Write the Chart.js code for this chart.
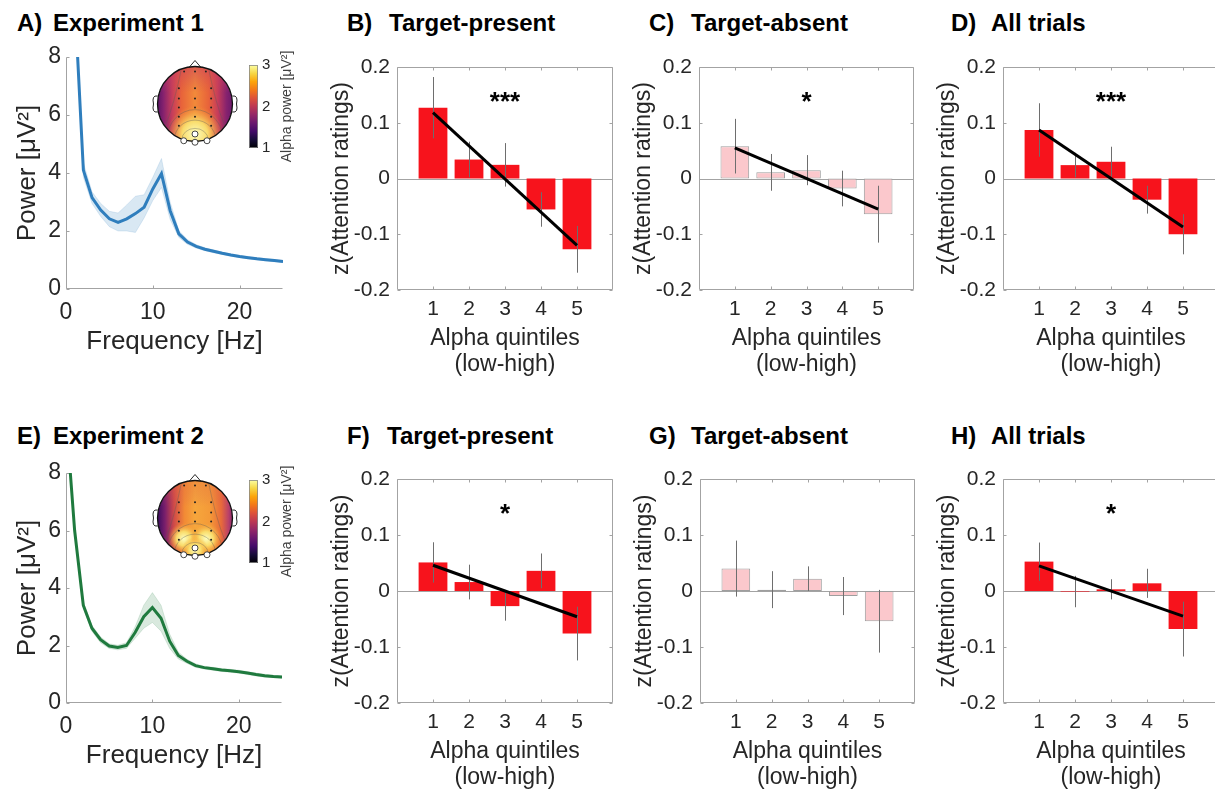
<!DOCTYPE html>
<html lang="en">
<head>
<meta charset="UTF-8">
<title>Alpha power and attention ratings</title>
<script src="https://cdn.jsdelivr.net/npm/chart.js"></script>
<style>
  body { margin: 0; width: 1215px; height: 791px; overflow: hidden; position: relative; background: #fff;
         font-family: "Liberation Sans", Arial, sans-serif; }
  canvas { position: absolute; }
  .ttl { position: absolute; font-weight: bold; font-size: 24px; line-height: 24px; white-space: nowrap; color: #000; }
</style>
</head>
<body>

<script>
// ---- power spectra (A: experiment 1, E: experiment 2) ----
const freqA    = [1, 2, 3, 4, 5, 6, 7, 8, 9, 10, 11, 12, 13, 14, 15, 16, 17, 18, 19, 20, 21, 22, 23, 24, 25];
const powerA   = [10, 4.1, 3.15, 2.72, 2.42, 2.3, 2.42, 2.6, 2.82, 3.45, 3.98, 2.7, 1.9, 1.62, 1.47, 1.37, 1.3, 1.23, 1.17, 1.12, 1.08, 1.04, 1.01, 0.98, 0.95];
const powerAHi = [10, 4.35, 3.35, 2.95, 2.68, 2.62, 2.9, 3.2, 3.25, 3.85, 4.5, 3.0, 2.02, 1.7, 1.53, 1.42, 1.35, 1.27, 1.21, 1.16, 1.12, 1.08, 1.05, 1.02, 0.99];
const powerALo = [10, 3.85, 2.95, 2.5, 2.15, 2.0, 2.0, 1.95, 2.45, 3.05, 3.5, 2.4, 1.78, 1.54, 1.41, 1.32, 1.25, 1.19, 1.13, 1.08, 1.04, 1.0, 0.97, 0.94, 0.91];

const freqE    = [0.5, 1, 2, 3, 4, 5, 6, 7, 8, 9, 10, 11, 12, 13, 14, 15, 16, 17, 18, 19, 20, 21, 22, 23, 24, 25];
const powerE   = [8.0, 6.0, 3.4, 2.6, 2.2, 1.98, 1.93, 2.0, 2.45, 3.0, 3.32, 2.95, 2.15, 1.65, 1.45, 1.3, 1.23, 1.19, 1.15, 1.12, 1.09, 1.04, 0.99, 0.95, 0.92, 0.9];
const powerEHi = [8.0, 6.1, 3.52, 2.7, 2.3, 2.06, 2.01, 2.1, 2.65, 3.4, 3.84, 3.4, 2.4, 1.77, 1.52, 1.36, 1.28, 1.24, 1.2, 1.17, 1.14, 1.09, 1.04, 1.0, 0.96, 0.94];
const powerELo = [8.0, 5.9, 3.28, 2.5, 2.1, 1.9, 1.85, 1.9, 2.25, 2.6, 2.8, 2.5, 1.9, 1.53, 1.38, 1.24, 1.18, 1.14, 1.1, 1.07, 1.04, 0.99, 0.94, 0.9, 0.88, 0.86];
const freqTicks = [0, 10, 20];
const colorbarTicks = [1, 2, 3];

// ---- attention ratings per alpha quintile (mean, SEM, fitted line ends) ----
const quintiles = [1, 2, 3, 4, 5];
const zB = [0.127, 0.034, 0.0245, -0.0555, -0.127], semB = [0.055, 0.032, 0.039, 0.031, 0.042], fitB = [0.118, -0.12];
const zC = [0.058, 0.011, 0.015, -0.018, -0.064],   semC = [0.049, 0.033, 0.027, 0.032, 0.051], fitC = [0.055, -0.055];
const zD = [0.087, 0.024, 0.030, -0.038, -0.100],   semD = [0.048, 0.022, 0.027, 0.025, 0.036], fitD = [0.087, -0.087];
const zF = [0.051, 0.016, -0.027, 0.036, -0.076],   semF = [0.036, 0.031, 0.026, 0.031, 0.048], fitF = [0.046, -0.046];
const zG = [0.040, 0.0024, 0.022, -0.009, -0.054],  semG = [0.050, 0.033, 0.022, 0.034, 0.056];
const zH = [0.0525, -0.001, 0.003, 0.0137, -0.068], semH = [0.034, 0.028, 0.018, 0.026, 0.049], fitH = [0.045, -0.045];
const stars = {B: '***', C: '*', D: '***', F: '*', G: '', H: '*'};

// panel titles: letter, text, x of letter, x of text, top
const titles = [
  ['A)', 'Experiment 1', 17, 53, 11], ['B)', 'Target-present', 347, 389, 11],
  ['C)', 'Target-absent', 649, 691, 11], ['D)', 'All trials', 951, 991, 11],
  ['E)', 'Experiment 2', 17, 53, 424], ['F)', 'Target-present', 347, 387, 424],
  ['G)', 'Target-absent', 649, 691, 424], ['H)', 'All trials', 951, 991, 424]
];
titles.forEach(([k, txt, x1, x2, top]) => {
  [[k, x1], [txt, x2]].forEach(([s, x]) => {
    const d = document.createElement('div');
    d.className = 'ttl'; d.textContent = s;
    d.style.left = x + 'px'; d.style.top = top + 'px';
    document.body.appendChild(d);
  });
});

Chart.defaults.font.family = '"Liberation Sans", Arial, sans-serif';
Chart.defaults.color = '#262626';

const TXT = '#262626';
const RED = '#f7131c', PINK = '#fbc8cc';
const PAD_TOP = 20;

function addCanvas(left, top, w, h) {
  const c = document.createElement('canvas');
  c.width = w; c.height = h;
  c.style.left = left + 'px'; c.style.top = top + 'px';
  document.body.appendChild(c);
  return c;
}

// matlab style axes: box / inner ticks / zero line
function frame(box, zero) {
  return {
    id: 'frame',
    beforeDatasetsDraw(chart) {
      const {ctx, chartArea: a, scales: {x, y}} = chart;
      const L = Math.round(a.left) + 0.5, R = Math.round(a.right) - 0.5;
      const T = Math.round(a.top) + 0.5, B = Math.round(a.bottom) - 0.5;
      ctx.save();
      ctx.strokeStyle = '#a3a3a3';
      ctx.lineWidth = 1;
      ctx.beginPath();
      if (box) ctx.rect(L, T, R - L, B - T);
      else { ctx.moveTo(L, T); ctx.lineTo(L, B); ctx.lineTo(R, B); }
      x.ticks.forEach(t => {
        const p = Math.round(x.getPixelForValue(t.value)) + 0.5;
        ctx.moveTo(p, B); ctx.lineTo(p, B - 3);
        if (box) { ctx.moveTo(p, T); ctx.lineTo(p, T + 3); }
      });
      y.ticks.forEach(t => {
        const p = Math.round(y.getPixelForValue(t.value)) + 0.5;
        ctx.moveTo(L, p); ctx.lineTo(L + 3, p);
        if (box) { ctx.moveTo(R, p); ctx.lineTo(R - 3, p); }
      });
      if (zero) {
        const p = Math.round(y.getPixelForValue(0)) + 0.5;
        ctx.moveTo(L, p); ctx.lineTo(R, p);
      }
      ctx.stroke();
      ctx.restore();
    }
  };
}

// ---- bar panels ----
function barPanel(g, z, sem, fit, color, edge, star) {
  const w = 100 + (g.r - g.l) + 6, h = PAD_TOP + (g.b - g.t) + 90;
  const cv = addCanvas(g.l - 100, g.t - PAD_TOP, w, h);
  const datasets = [{
    type: 'bar',
    data: quintiles.map((q, i) => ({x: q, y: z[i]})),
    backgroundColor: color, borderColor: edge || color, borderWidth: edge ? 1 : 0, borderSkipped: false,
    barPercentage: 0.8, categoryPercentage: 1, order: 2
  }];
  if (fit) {
    datasets.push({
      type: 'line',
      data: [{x: quintiles[0], y: fit[0]}, {x: quintiles[quintiles.length - 1], y: fit[1]}],
      borderColor: '#000', borderWidth: 3, pointRadius: 0, fill: false, order: 1
    });
  }
  const marks = {
    id: 'marks',
    afterDatasetDraw(chart, args) {
      if (args.index !== 0) return;
      const {ctx, scales: {x, y}} = chart;
      ctx.save();
      ctx.strokeStyle = '#6e6e6e';
      ctx.lineWidth = 1;
      z.forEach((m, i) => {
        const p = Math.round(x.getPixelForValue(quintiles[i])) + 0.5;
        ctx.beginPath();
        ctx.moveTo(p, y.getPixelForValue(m - sem[i]));
        ctx.lineTo(p, y.getPixelForValue(m + sem[i]));
        ctx.stroke();
      });
      ctx.restore();
    },
    afterDatasetsDraw(chart) {
      if (!star) return;
      const {ctx, scales: {x, y}} = chart;
      ctx.save();
      ctx.fillStyle = '#000';
      ctx.font = 'bold 26px "Liberation Sans", Arial, sans-serif';
      ctx.textAlign = 'center';
      ctx.textBaseline = 'alphabetic';
      ctx.fillText(star, x.getPixelForValue(3), y.getPixelForValue(0.15) + 15);
      ctx.restore();
    }
  };
  new Chart(cv, {
    type: 'bar',
    data: {datasets},
    options: {
      responsive: false, animation: false, events: [],
      layout: {padding: {top: PAD_TOP, right: 6, left: 0, bottom: 0}},
      plugins: {legend: {display: false}, tooltip: {enabled: false}},
      scales: {
        x: {
          type: 'linear', min: 0, max: 6, offset: false,
          afterBuildTicks: s => { s.ticks = quintiles.map(v => ({value: v})); },
          afterFit: s => { s.height = 90; },
          grid: {display: false, drawTicks: false}, border: {display: false},
          ticks: {font: {size: 21}, padding: 7, color: TXT, maxRotation: 0, autoSkip: false, callback: v => String(v)},
          title: {display: true, text: ['Alpha quintiles', '(low-high)'], color: TXT,
                  font: {size: 23, lineHeight: 1.13}, padding: {top: 0, bottom: 2}}
        },
        y: {
          min: -0.2, max: 0.2,
          afterFit: s => { s.width = 100; },
          grid: {display: false, drawTicks: false}, border: {display: false},
          ticks: {stepSize: 0.1, font: {size: 21}, padding: 7, color: TXT,
                  callback: v => Math.abs(v) < 1e-9 ? '0' : v.toFixed(1)},
          title: {display: true, text: 'z(Attention ratings)', color: TXT,
                  font: {size: 23, lineHeight: 1.13}, padding: {top: 32, bottom: 0}}
        }
      }
    },
    plugins: [frame(true, true), marks]
  });
}

// ---- topography inset (decorative) ----
const inferno = ['#000004', '#160b39', '#420a68', '#6a176e', '#932667', '#bc3754',
                 '#dd513a', '#f37819', '#fca50a', '#f6d746', '#fcffa4'];

function drawTopo(ctx, cx, cy, r, kind) {
  ctx.save();
  ctx.beginPath(); ctx.arc(cx, cy, r, 0, Math.PI * 2); ctx.clip();
  const lg = ctx.createLinearGradient(cx - r, 0, cx + r, 0);
  const stops = kind === 1
    ? [[0, '#5a1466'], [0.08, '#86226e'], [0.2, '#c73e5a'], [0.32, '#e8633a'], [0.5, '#f28a3a'],
       [0.68, '#e8633a'], [0.8, '#c73e5a'], [0.92, '#86226e'], [1, '#6a1a6c']]
    : [[0, '#3a0c60'], [0.1, '#7a1f6c'], [0.22, '#d04a48'], [0.36, '#f28a35'], [0.5, '#f6a63c'],
       [0.7, '#f49a38'], [0.85, '#e86a3a'], [0.95, '#b8406a'], [1, '#8a2a6c']];
  stops.forEach(([o, c]) => lg.addColorStop(o, c));
  ctx.fillStyle = lg;
  ctx.fillRect(cx - r, cy - r, 2 * r, 2 * r);
  const tg = ctx.createLinearGradient(0, cy - r, 0, cy - 0.3 * r);
  tg.addColorStop(0, kind === 1 ? 'rgba(200,60,100,0.55)' : 'rgba(230,110,60,0.35)');
  tg.addColorStop(1, 'rgba(205,70,90,0)');
  ctx.fillStyle = tg;
  ctx.fillRect(cx - r, cy - r, 2 * r, 2 * r);
  const blobs = kind === 1 ? [[0, 0.8, 0.75]] : [[-0.3, 0.55, 0.42], [0.3, 0.55, 0.42], [0, 0.85, 0.35]];
  blobs.forEach(([bx, by, br]) => {
    const rg = ctx.createRadialGradient(cx + bx * r, cy + by * r, 0, cx + bx * r, cy + by * r, br * r);
    rg.addColorStop(0, 'rgba(252,253,191,1)');
    rg.addColorStop(0.45, 'rgba(250,225,110,0.95)');
    rg.addColorStop(1, 'rgba(246,160,50,0)');
    ctx.fillStyle = rg;
    ctx.fillRect(cx - r, cy - r, 2 * r, 2 * r);
  });
  // a few faint contour lines
  ctx.strokeStyle = 'rgba(90,90,90,0.45)';
  ctx.lineWidth = 0.8;
  [[0.35, 0.3], [0.55, 0.52], [0.75, 0.8]].forEach(([rx, ry]) => {
    ctx.beginPath(); ctx.ellipse(cx, cy + 0.95 * r, rx * r, ry * r, 0, 0, Math.PI * 2); ctx.stroke();
  });
  [-1, 1].forEach(s => {
    ctx.beginPath();
    ctx.moveTo(cx + s * 0.35 * r, cy - r);
    ctx.quadraticCurveTo(cx + s * 0.55 * r, cy, cx + s * 0.8 * r, cy + 0.6 * r);
    ctx.stroke();
  });
  ctx.restore();

  ctx.save();
  ctx.strokeStyle = '#111';
  ctx.lineWidth = 1.3;
  ctx.beginPath(); ctx.arc(cx, cy, r, 0, Math.PI * 2); ctx.stroke();
  ctx.lineWidth = 0.9;
  ctx.beginPath(); ctx.moveTo(cx - 6, cy - r + 1); ctx.lineTo(cx, cy - r - 6); ctx.lineTo(cx + 6, cy - r + 1); ctx.stroke();
  [-1, 1].forEach(s => {
    ctx.beginPath();
    ctx.moveTo(cx + s * r, cy - 8);
    ctx.quadraticCurveTo(cx + s * (r + 6), cy - 9, cx + s * (r + 4), cy);
    ctx.quadraticCurveTo(cx + s * (r + 6), cy + 9, cx + s * r, cy + 8);
    ctx.stroke();
  });
  ctx.fillStyle = '#222';
  [[-0.29, -0.87], [0, -0.87], [0.29, -0.87],
   [-0.43, -0.42], [0, -0.42], [0.43, -0.42], [-0.43, -0.15], [0, -0.15], [0.43, -0.15],
   [-0.43, 0.09], [0, 0.09], [0.43, 0.09], [-0.43, 0.34], [0, 0.34], [0.43, 0.34], [-0.43, 0.58], [0.43, 0.58]]
    .forEach(([dx, dy]) => { ctx.beginPath(); ctx.arc(cx + dx * r, cy + dy * r, 1, 0, Math.PI * 2); ctx.fill(); });
  ctx.fillStyle = '#fff';
  ctx.strokeStyle = '#333';
  ctx.lineWidth = 0.9;
  [[0, 0.8], [-0.3, 0.98], [0, 1.02], [0.32, 0.98]].forEach(([dx, dy]) => {
    ctx.beginPath(); ctx.arc(cx + dx * r, cy + dy * r, 3, 0, Math.PI * 2); ctx.fill(); ctx.stroke();
  });
  ctx.restore();
}

function drawColorbar(ctx, x, y, w, h) {
  ctx.save();
  const g = ctx.createLinearGradient(0, y + h, 0, y);
  inferno.forEach((c, i) => g.addColorStop(i / (inferno.length - 1), c));
  ctx.fillStyle = g;
  ctx.fillRect(x, y, w, h);
  ctx.strokeStyle = '#888';
  ctx.lineWidth = 0.8;
  ctx.strokeRect(x + 0.5, y + 0.5, w - 1, h - 1);
  ctx.fillStyle = TXT;
  ctx.font = '15px "Liberation Sans", Arial, sans-serif';
  ctx.textBaseline = 'middle';
  ctx.textAlign = 'left';
  colorbarTicks.forEach(v => ctx.fillText(String(v), x + w + 4, y + h - (v - 1) / 2 * h));
  ctx.translate(287, y + h / 2);
  ctx.rotate(-Math.PI / 2);
  ctx.textAlign = 'center';
  ctx.fillStyle = '#404040';
  ctx.font = '14px "Liberation Sans", Arial, sans-serif';
  ctx.fillText('Alpha power [μV²]', 0, 0);
  ctx.restore();
}

// ---- spectrum panels ----
function spectrumPanel(g, freq, mean, hi, lo, color, band, kind) {
  const w = 300, h = PAD_TOP + (g.b - g.t) + 72;
  const top = g.t - PAD_TOP;
  const cv = addCanvas(0, top, w, h);
  const pts = arr => freq.map((f, i) => ({x: f, y: arr[i]}));
  const inset = {
    id: 'inset',
    afterDraw(chart) {
      drawTopo(chart.ctx, 195, g.topo - top, 37.5, kind);
      drawColorbar(chart.ctx, 249, g.bar - top, 9, 83);
    }
  };
  new Chart(cv, {
    type: 'line',
    data: {datasets: [
      {data: pts(hi), borderColor: band, borderWidth: 0.8, backgroundColor: band, fill: '+1', pointRadius: 0, order: 1},
      {data: pts(lo), borderColor: band, borderWidth: 0.8, fill: false, pointRadius: 0, order: 2},
      {data: pts(mean), borderColor: color, borderWidth: 3, fill: false, pointRadius: 0, order: 0}
    ]},
    options: {
      responsive: false, animation: false, events: [],
      layout: {padding: {top: PAD_TOP, right: w - g.r, left: 0, bottom: 0}},
      plugins: {legend: {display: false}, tooltip: {enabled: false}},
      scales: {
        x: {
          type: 'linear', min: 0, max: 25,
          afterBuildTicks: s => { s.ticks = freqTicks.map(v => ({value: v})); },
          afterFit: s => { s.height = 72; },
          grid: {display: false, drawTicks: false}, border: {display: false},
          ticks: {font: {size: 23}, padding: 10, color: TXT, maxRotation: 0},
          title: {display: true, text: 'Frequency [Hz]', color: TXT, font: {size: 26}, padding: {top: 0, bottom: 4}}
        },
        y: {
          min: 0, max: 8,
          afterFit: s => { s.width = g.l; },
          grid: {display: false, drawTicks: false}, border: {display: false},
          ticks: {stepSize: 2, font: {size: 23}, padding: 5, color: TXT},
          title: {display: true, text: 'Power [μV²]', color: TXT, font: {size: 26}, padding: {top: 12, bottom: 0}}
        }
      }
    },
    plugins: [frame(false, false), inset]
  });
}

spectrumPanel({l: 66, t: 57, r: 283, b: 289, topo: 104, bar: 65}, freqA, powerA, powerAHi, powerALo, '#2f7ebd', 'rgba(47,126,189,0.18)', 1);
spectrumPanel({l: 66, t: 473, r: 282, b: 703, topo: 518, bar: 480}, freqE, powerE, powerEHi, powerELo, '#1f7a3e', 'rgba(31,122,62,0.17)', 2);

barPanel({l: 397, t: 67, r: 613, b: 290}, zB, semB, fitB, RED, null, stars.B);
barPanel({l: 699, t: 67, r: 914, b: 290}, zC, semC, fitC, PINK, '#9e9e9e', stars.C);
barPanel({l: 1003, t: 67, r: 1219, b: 290}, zD, semD, fitD, RED, null, stars.D);
barPanel({l: 397, t: 479, r: 613, b: 703}, zF, semF, fitF, RED, null, stars.F);
barPanel({l: 700, t: 479, r: 915, b: 703}, zG, semG, null, PINK, '#9e9e9e', stars.G);
barPanel({l: 1003, t: 479, r: 1219, b: 703}, zH, semH, fitH, RED, null, stars.H);
</script>

</body>
</html>
